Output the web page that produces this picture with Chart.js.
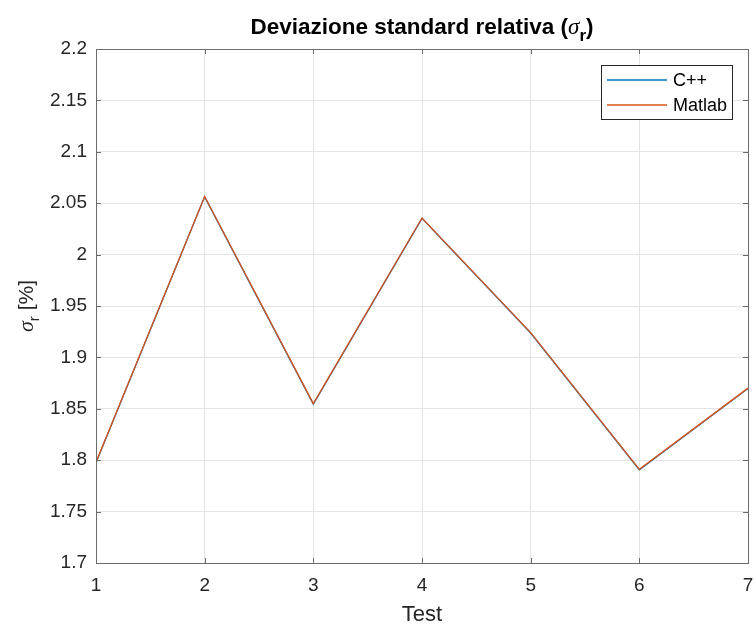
<!DOCTYPE html>
<html>
<head>
<meta charset="utf-8">
<script src="https://cdn.jsdelivr.net/npm/chart.js@4.4.0/dist/chart.umd.min.js"></script>
<style>
	html, body { margin: 0; padding: 0; background: #fff; }
	#wrap { width: 756px; height: 624px; position: relative; }
</style>
</head>
<body>
<div id="wrap"><canvas id="graficoSigma"></canvas></div>
<script>
// dati
var tests = [1, 2, 3, 4, 5, 6, 7];
var sigmaCpp = [1.7976, 2.0562, 1.8546, 2.0352, 1.9237, 1.7907, 1.8697];
var sigmaMatlab = [1.7980, 2.0566, 1.8550, 2.0356, 1.9241, 1.7911, 1.8701];
var xTicks = [1, 2, 3, 4, 5, 6, 7];
var yTicks = [1.7, 1.75, 1.8, 1.85, 1.9, 1.95, 2, 2.05, 2.1, 2.15, 2.2];
var seriesLabels = ['C++', 'Matlab'];

var FONT = '"Liberation Sans", Arial, Helvetica, sans-serif';
var TEXT = '#262626';
var AXIS = '#6b6b6b';
var GRID = '#e4e4e4';

function punti(valori) {
	return tests.map(function(t, i) { return { x: t, y: valori[i] }; });
}

// testo con pedici: lista di pezzi {t, font, dy}
function larghezza(ctx, pezzi) {
	var w = 0;
	pezzi.forEach(function(p) { ctx.font = p.font; w += ctx.measureText(p.t).width; });
	return w;
}
function scriviPezzi(ctx, pezzi, x, y) {
	pezzi.forEach(function(p) {
		ctx.font = p.font;
		ctx.fillText(p.t, x, y + (p.dy || 0));
		x += ctx.measureText(p.t).width;
	});
}

var decorazioni = {
	id: 'decorazioni',
	afterDraw: function(chart) {
		var ctx = chart.ctx;
		var a = chart.chartArea;
		var xs = chart.scales.x, ys = chart.scales.y;
		ctx.save();

		// cornice
		ctx.strokeStyle = AXIS;
		ctx.lineWidth = 1;
		ctx.strokeRect(Math.round(a.left) + 0.5, Math.round(a.top) + 0.5,
			Math.round(a.right - a.left), Math.round(a.bottom - a.top));

		// tacche interne
		var tl = 5;
		ctx.beginPath();
		xTicks.forEach(function(v) {
			var px = Math.round(xs.getPixelForValue(v)) + 0.5;
			ctx.moveTo(px, a.bottom); ctx.lineTo(px, a.bottom - tl);
			ctx.moveTo(px, a.top); ctx.lineTo(px, a.top + tl);
		});
		yTicks.forEach(function(v) {
			var py = Math.round(ys.getPixelForValue(v)) + 0.5;
			ctx.moveTo(a.left, py); ctx.lineTo(a.left + tl, py);
			ctx.moveTo(a.right, py); ctx.lineTo(a.right - tl, py);
		});
		ctx.stroke();

		// titolo
		ctx.fillStyle = '#000';
		ctx.textBaseline = 'alphabetic';
		ctx.textAlign = 'left';
		var titolo = [
			{ t: 'Deviazione standard relativa (', font: 'bold 22.5px ' + FONT },
			{ t: '\u03c3', font: 'italic 23px "Liberation Serif", serif' },
			{ t: 'r', font: 'bold 17px ' + FONT, dy: 7 },
			{ t: ')', font: 'bold 22.5px ' + FONT }
		];
		var cx = (a.left + a.right) / 2;
		scriviPezzi(ctx, titolo, cx - larghezza(ctx, titolo) / 2, 34);

		// etichetta asse x
		ctx.fillStyle = TEXT;
		ctx.font = '22px ' + FONT;
		ctx.textAlign = 'center';
		ctx.fillText('Test', cx, 621);

		// etichetta asse y
		var ylab = [
			{ t: '\u03c3', font: 'italic 22px "Liberation Serif", serif' },
			{ t: 'r', font: '15px ' + FONT, dy: 6 },
			{ t: ' [%]', font: '21px ' + FONT }
		];
		ctx.textAlign = 'left';
		ctx.translate(33, (a.top + a.bottom) / 2);
		ctx.rotate(-Math.PI / 2);
		scriviPezzi(ctx, ylab, -larghezza(ctx, ylab) / 2, 0);
		ctx.setTransform(1, 0, 0, 1, 0, 0);

		// legenda
		var lx = 601, ly = 65, lw = 131, lh = 54;
		ctx.fillStyle = '#fff';
		ctx.fillRect(lx, ly, lw, lh);
		ctx.strokeStyle = '#262626';
		ctx.strokeRect(lx + 0.5, ly + 0.5, lw, lh);
		ctx.font = '18px ' + FONT;
		ctx.textBaseline = 'middle';
		chart.data.datasets.forEach(function(ds, i) {
			var yy = ly + 15 + i * 25;
			ctx.strokeStyle = ds.borderColor;
			ctx.lineWidth = 1.5;
			ctx.beginPath();
			ctx.moveTo(lx + 6, yy); ctx.lineTo(lx + 66, yy);
			ctx.stroke();
			ctx.fillStyle = '#000';
			ctx.fillText(ds.label, lx + 72, yy + 1);
		});
		ctx.restore();
	}
};

var grafico = new Chart(document.getElementById('graficoSigma').getContext('2d'), {
	type: 'line',
	data: {
		datasets: [{
			label: seriesLabels[0],
			data: punti(sigmaCpp),
			borderColor: '#0072BD',
			borderWidth: 1.3,
			pointRadius: 0,
			tension: 0,
			fill: false,
			order: 2
		}, {
			label: seriesLabels[1],
			data: punti(sigmaMatlab),
			borderColor: '#D95319',
			borderWidth: 1.3,
			pointRadius: 0,
			tension: 0,
			fill: false,
			order: 1
		}]
	},
	options: {
		responsive: true,
		maintainAspectRatio: false,
		animation: false,
		layout: { padding: { top: 49, right: 8, left: 0, bottom: 0 } },
		plugins: {
			legend: { display: false },
			title: { display: false },
			tooltip: { enabled: false }
		},
		scales: {
			x: {
				type: 'linear',
				min: 1,
				max: 7,
				afterBuildTicks: function(scale) {
					scale.ticks = xTicks.map(function(v) { return { value: v }; });
				},
				afterFit: function(scale) {
					scale.height = 61;
					scale.paddingLeft = 0;
					scale.paddingRight = 0;
				},
				grid: { color: GRID, drawTicks: false },
				border: { display: false },
				ticks: {
					color: TEXT,
					font: { family: FONT, size: 19 },
					padding: 11,
					maxRotation: 0,
					callback: function(v) { return String(v); }
				}
			},
			y: {
				min: 1.7,
				max: 2.2,
				afterBuildTicks: function(scale) {
					scale.ticks = yTicks.map(function(v) { return { value: v }; });
				},
				afterFit: function(scale) {
					scale.width = 96;
					scale.paddingTop = 0;
					scale.paddingBottom = 0;
				},
				grid: { color: GRID, drawTicks: false },
				border: { display: false },
				ticks: {
					color: TEXT,
					font: { family: FONT, size: 19 },
					padding: 9,
					callback: function(v) { return String(+v.toFixed(2)); }
				}
			}
		}
	},
	plugins: [decorazioni]
});
</script>
</body>
</html>
